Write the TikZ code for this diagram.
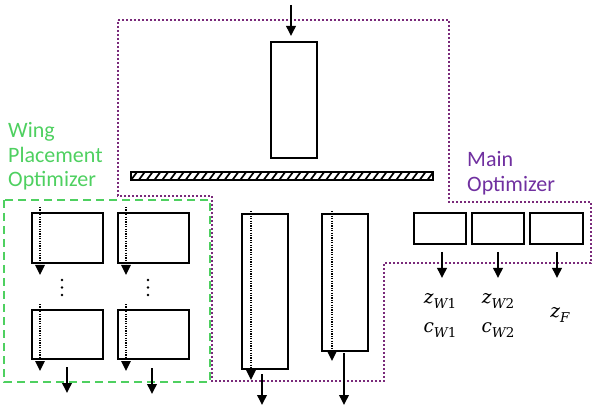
\documentclass[tikz,border=0pt]{standalone}
\usepackage{fontspec}
\setmainfont{Carlito}
\newfontfamily\mlabfont{DejaVu Serif}
\usetikzlibrary{arrows.meta}
\definecolor{optpurple}{RGB}{122,42,122}
\definecolor{txtpurple}{RGB}{112,48,160}
\definecolor{wgreen}{RGB}{78,208,96}
\newcommand{\varsub}[3]{{\fontsize{18.5}{20}\selectfont\mlabfont\itshape #1}\raisebox{-5.5pt}{\fontsize{13.5}{14}\selectfont\mlabfont{\itshape #2}#3}}
\begin{document}
\begin{tikzpicture}[x=1pt,y=-1pt,
  box/.style={draw=black,line width=1.4pt,inner sep=0pt,outer sep=0pt,anchor=north west,fill=white},
  arr/.style={line width=1.9pt,-{Triangle[width=9.5pt,length=10pt]}},
  dotarr/.style={line width=1.5pt,dash pattern=on 1.2pt off 1.2pt,-{Triangle[width=9.5pt,length=10pt]}},
  grouplabel/.style={anchor=north west,align=left,inner sep=0pt,font=\fontsize{22}{24.5}\selectfont},
  mathlabel/.style={anchor=base,inner sep=0pt},
  dotpt/.style={fill=black,radius=1.4pt}]
\useasboundingbox (0,0) rectangle (592,406);
% group outlines
\draw[optpurple,line width=1.9pt,dash pattern=on 1.9pt off 2.1pt]
  (118,20) -- (449,20) -- (449,202) -- (591,202) -- (591,263) -- (384,263)
  -- (384,381) -- (212,381) -- (212,196) -- (118,196) -- cycle;
\draw[wgreen,line width=1.7pt,dash pattern=on 8pt off 5pt] (4,200) rectangle (210,382);
% labels
\node[grouplabel,text=wgreen] (wingopt) at (8,122.5) {Wing\\Placement\\Optimizer};
\node[grouplabel,text=txtpurple] (mainopt) at (467,151.5) {Main\\Optimizer};
% top block
\coordinate (intop) at (291,5);
\node[box,minimum width=46pt,minimum height=116pt] (topbox) at (271,42) {};
\draw[arr,shorten >=6pt] (intop) -- (intop |- topbox.north);
% hatched bar
\node[box,minimum width=302pt,minimum height=8pt] (bar) at (131,172) {};
\begin{scope}
  \clip (bar.south west) rectangle (bar.north east);
  \foreach \i in {0,...,39}
    \draw[line width=1.7pt] ([xshift=\i*7.8pt]bar.south west) -- ++(6,-8);
\end{scope}
\draw[line width=1.6pt] (bar.south west) rectangle (bar.north east);
% wing placement blocks
\node[box,minimum width=71pt,minimum height=50pt] (w1) at (32,213) {};
\node[box,minimum width=71pt,minimum height=50pt] (w2) at (118,213) {};
\node[box,minimum width=71pt,minimum height=49pt] (w3) at (32,310) {};
\node[box,minimum width=71pt,minimum height=49pt] (w4) at (118,310) {};
\foreach \b in {w1,w2,w3,w4}
  \draw[dotarr] ([xshift=8pt,yshift=6pt]\b.north west) -- ([xshift=8pt,yshift=-12pt]\b.south west);
\foreach \xx in {62,148}
  \foreach \yy in {280,287.5,295}
    \fill[dotpt] (\xx,\yy) circle;
\draw[arr] ([xshift=-0.5pt,yshift=-8pt]w3.south) -- ++(0,26);
\draw[arr] ([xshift=-1.5pt,yshift=-9pt]w4.south) -- ++(0,26);
% middle blocks
\node[box,minimum width=46pt,minimum height=155pt] (ma) at (242,214) {};
\node[box,minimum width=46pt,minimum height=137pt] (mb) at (322,214) {};
\draw[dotarr] ([xshift=9pt,yshift=3pt]ma.north west) -- ([xshift=9pt,yshift=-11pt]ma.south west);
\draw[dotarr] ([xshift=10pt,yshift=3pt]mb.north west) -- ([xshift=10pt,yshift=-10pt]mb.south west);
\draw[arr] ([xshift=-3pt,yshift=-5pt]ma.south) -- ([xshift=-3pt,yshift=-36pt]ma.south);
\draw[arr] ([xshift=-1pt,yshift=-2pt]mb.south) -- ([xshift=-1pt,yshift=-54pt]mb.south);
% main optimizer outputs
\node[box,minimum width=52pt,minimum height=31pt] (o1) at (414,213) {};
\node[box,minimum width=52pt,minimum height=31pt] (o2) at (472,213) {};
\node[box,minimum width=53pt,minimum height=31pt] (o3) at (530,213) {};
\draw[arr] ([xshift=2pt,yshift=-8pt]o1.south) -- ++(0,26);
\draw[arr] ([xshift=0pt,yshift=-8pt]o2.south) -- ++(0,26);
\draw[arr] ([xshift=0.5pt,yshift=-8pt]o3.south) -- ++(0,26);
\node[mathlabel] (zw1) at (440,303) {\varsub{z}{W}{1}};
\node[mathlabel] (cw1) at (440,332) {\varsub{c}{W}{1}};
\node[mathlabel] (zw2) at (498,303) {\varsub{z}{W}{2}};
\node[mathlabel] (cw2) at (498,332) {\varsub{c}{W}{2}};
\node[mathlabel] (zf) at (560,317) {\varsub{z}{F}{}};
\end{tikzpicture}
\end{document}
